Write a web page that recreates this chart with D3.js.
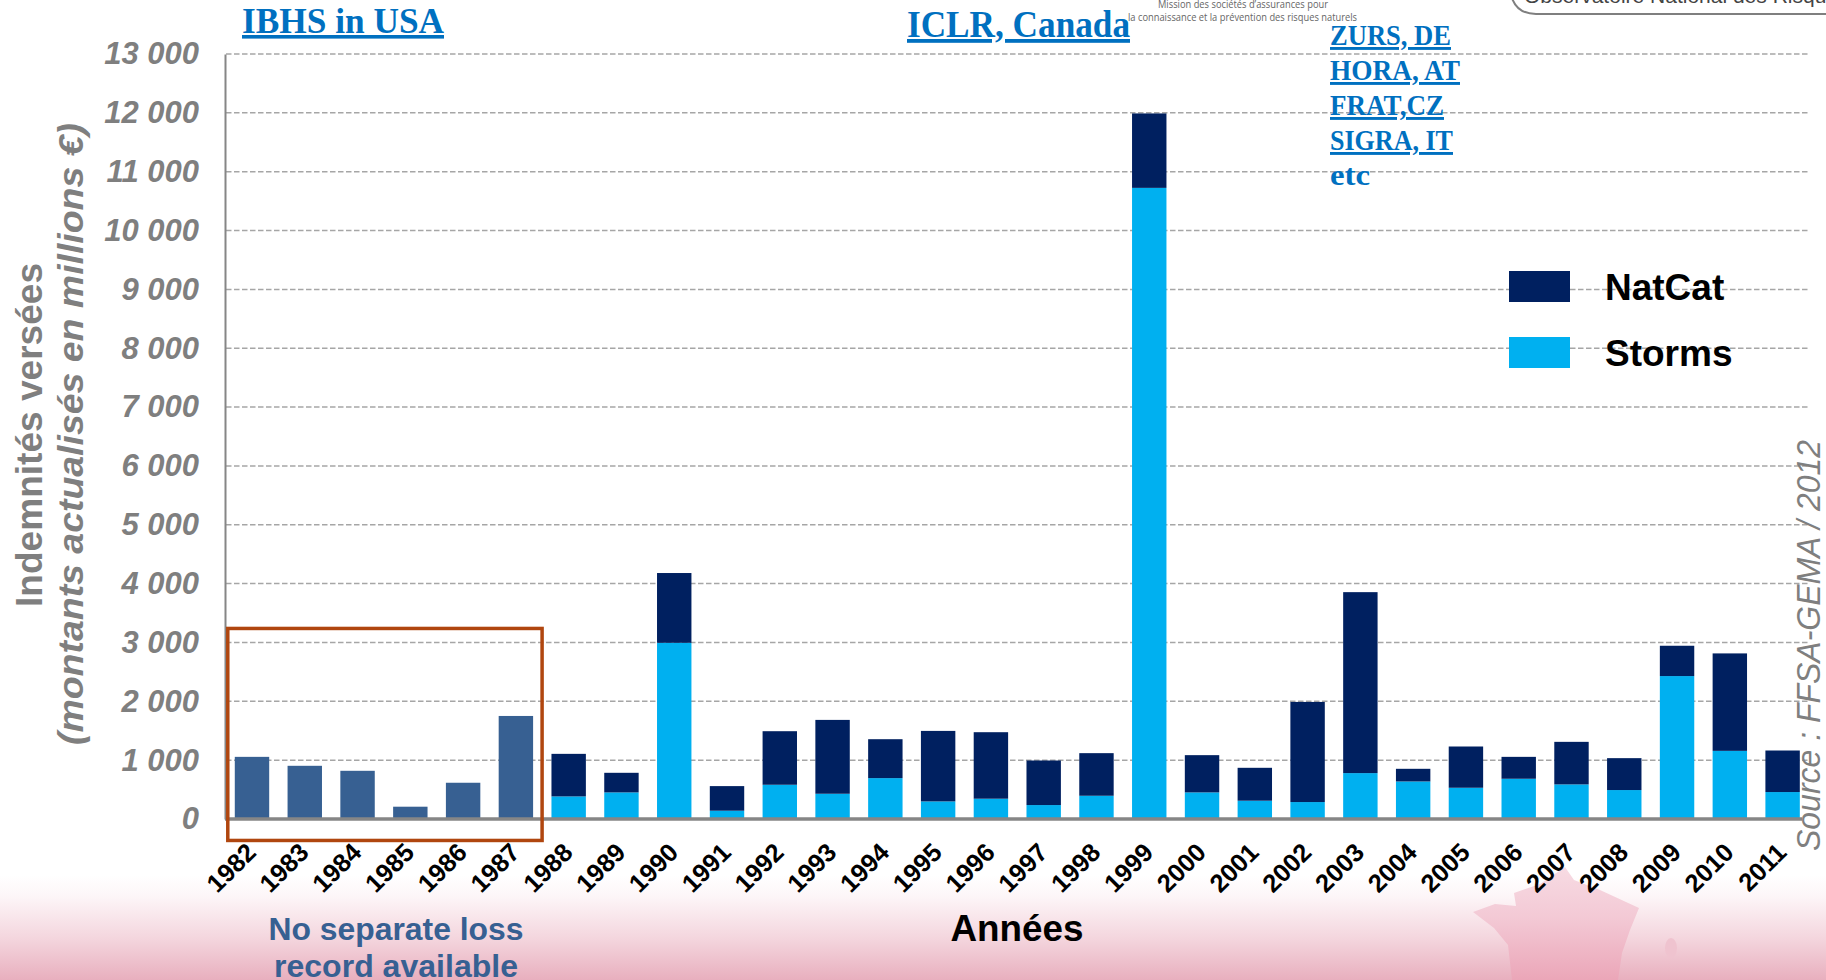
<!DOCTYPE html>
<html><head><meta charset="utf-8">
<script src="https://cdn.jsdelivr.net/npm/d3@7/dist/d3.min.js"></script>
<style>
html,body{margin:0;padding:0;background:#fff;overflow:hidden}
svg{display:block}
text{font-family:"Liberation Sans",Arial,sans-serif}
</style></head><body>
<svg id="c" width="1826" height="980"></svg>
<script>
const years = d3.range(1982, 2012);
const combinedValues = [1056,904,819,209,616,1751,0,0,0,0,0,0,0,0,0,0,0,0,0,0,0,0,0,0,0,0,0,0,0,0];
const stormValues = [0,0,0,0,0,0,384,452,2994,141,582,429,695,299,345,237,395,10725,452,311,288,780,638,531,684,588,492,2429,1158,458];
const natcatValues = [0,0,0,0,0,0,723,333,1186,418,910,1255,661,1198,1130,757,724,1265,633,559,1701,3075,215,701,372,723,542,515,1656,706];
const yTicks = d3.range(0, 13001, 1000);
const legendLabels = ["NatCat", "Storms"];
const boxedYears = [1982, 1987];
const colors = {combined:"#376092", storms:"#00B0F0", natcat:"#002060"};

const svg = d3.select("#c");
const defs = svg.append("defs");
const bg = defs.append("linearGradient").attr("id","bg").attr("x1",0).attr("x2",0).attr("y1",0).attr("y2",1);
[[0,"#ffffff"],[0.2,"#fdf6f8"],[0.6,"#f4d6de"],[1,"#e8afbe"]].forEach(s=>bg.append("stop").attr("offset",s[0]).attr("stop-color",s[1]));
const fr = defs.append("linearGradient").attr("id","fr").attr("x1",0).attr("x2",0).attr("y1",0).attr("y2",1);
fr.append("stop").attr("offset",0).attr("stop-color","#f7dbe3");
fr.append("stop").attr("offset",0.45).attr("stop-color","#f3c9d5");
fr.append("stop").attr("offset",1).attr("stop-color","#eba6b8");

// pink footer band and France silhouette (decoration)
svg.append("rect").attr("x",0).attr("y",875).attr("width",1826).attr("height",105).attr("fill","url(#bg)");
svg.append("path").attr("d","M1486,886 Q1488,868 1506,866").attr("fill","none").attr("stroke","#ececec").attr("stroke-width",5);
svg.append("path").attr("d","M1565,867 L1574,880 L1600,890 L1639,908 L1630,930 L1622,953 L1618,980 L1512,980 L1508,945 L1494,928 L1473,912 L1495,904 L1516,906 L1514,893 L1540,884 Z").attr("fill","url(#fr)");
svg.append("ellipse").attr("cx",1671).attr("cy",948).attr("rx",6).attr("ry",10).attr("fill","#efc3cf");

const x = d3.scaleBand().domain(years).range([225.6,1809]).paddingInner(0.348).paddingOuter(0.174);
const y = d3.scaleLinear().domain([0,13000]).range([819,54]);
const fmt = d3.formatLocale({thousands:" ",grouping:[3],decimal:",",currency:["","€"]}).format(",d");

// grid
svg.append("g").selectAll("line").data(yTicks.slice(1)).join("line")
  .attr("x1",226).attr("x2",1808).attr("y1",d=>y(d)).attr("y2",d=>y(d))
  .attr("stroke","#a6a6a6").attr("stroke-width",1.5).attr("stroke-dasharray","5.5 2.5");

// y axis
const gy = svg.append("g").attr("transform","translate(225,0)")
  .call(d3.axisLeft(y).tickValues(yTicks).tickFormat(fmt).tickSize(0).tickPadding(26));
gy.select(".domain").attr("stroke","#868686").attr("stroke-width",2);
gy.selectAll("text").attr("fill","#7f7f7f").attr("font-size",31).attr("font-weight","bold").attr("font-style","italic");

// bars
const rows = years.map((yr,i)=>({year:yr,combined:combinedValues[i],storms:stormValues[i],natcat:natcatValues[i]}));
const series = d3.stack().keys(["combined","storms","natcat"])(rows);
svg.append("g").selectAll("g").data(series).join("g").attr("fill",s=>colors[s.key])
  .selectAll("rect").data(s=>s.filter(d=>d[1]>d[0])).join("rect")
  .attr("x",d=>x(d.data.year)).attr("width",x.bandwidth())
  .attr("y",d=>y(d[1])).attr("height",d=>y(d[0])-y(d[1]));

// x axis
const gx = svg.append("g").attr("transform",`translate(0,${y(0)})`)
  .call(d3.axisBottom(x).tickSize(0).tickPadding(0));
gx.select(".domain").attr("stroke","#868686").attr("stroke-width",3.5).attr("d","M225,0H1802");
gx.selectAll(".tick text").attr("fill","#000").attr("font-size",25.5).attr("font-weight","bold")
  .attr("text-anchor","end").attr("dy",0).attr("y",0)
  .attr("transform","translate(5.5,35) rotate(-45)");

// boxed, no separate record
svg.append("rect").attr("x",x(boxedYears[0])-7).attr("y",y(3000)-14)
  .attr("width",x(boxedYears[1])+x.bandwidth()+9-(x(boxedYears[0])-7)).attr("height",212)
  .attr("fill","none").attr("stroke","#B0460F").attr("stroke-width",3.5);

function label(t,xp,yp,o){
  const e = svg.append("text").attr("x",xp).attr("y",yp).text(t)
    .attr("font-size",o.size).attr("fill",o.fill||"#000")
    .attr("font-weight",o.weight||"bold");
  if(o.style) e.attr("font-style",o.style);
  if(o.anchor) e.attr("text-anchor",o.anchor);
  if(o.family) e.style("font-family",o.family);
  if(o.len) e.attr("textLength",o.len).attr("lengthAdjust","spacingAndGlyphs");
  if(o.under) e.attr("text-decoration","underline");
  if(o.rot) e.attr("transform",`rotate(${o.rot} ${xp} ${yp})`);
  return e;
}
const serif = '"Liberation Serif",serif';
const blue = "#0070C0";
label("IBHS in USA",242,33,{size:36,fill:blue,family:serif,len:202,under:true});
label("ICLR, Canada",907,37,{size:38,fill:blue,family:serif,len:223,under:true});
[["ZURS, DE",45,121],["HORA, AT",80,130],["FRAT,CZ",115,114],["SIGRA, IT",150,123]].forEach(r=>
  label(r[0],1330,r[1],{size:29,fill:blue,family:serif,len:r[2],under:true}));
label("etc",1330,185,{size:29,fill:blue,family:serif,len:40});

label("Mission des sociétés d’assurances pour",1158,8,{size:11,fill:"#666",weight:"normal",family:'"Open Sans"',len:170});
label("la connaissance et la prévention des risques naturels",1128,21,{size:11,fill:"#666",weight:"normal",family:'"Open Sans"',len:229});

svg.append("path").attr("d","M1511,-5 Q1516,14 1536,14 H1830").attr("fill","none").attr("stroke","#7f7f7f").attr("stroke-width",2);
label("Observatoire National des Risques Naturels",1524,3,{size:21,fill:"#444",weight:"normal"});

// axis titles
label("Indemnités versées",42,607,{size:36,fill:"#7f7f7f",rot:-90,len:344});
label("(montants actualisés en millions €)",83,745,{size:35,fill:"#7f7f7f",style:"italic",rot:-90,len:622});
label("Source : FFSA-GEMA / 2012",1820,851,{size:33,fill:"#7f7f7f",style:"italic",weight:"normal",rot:-90,len:411});
label("Années",1017,941,{size:37,anchor:"middle",len:133});
label("No separate loss",396,940,{size:32,fill:colors.combined,anchor:"middle",len:255});
label("record available",396,977,{size:32,fill:colors.combined,anchor:"middle",len:244});

// legend
const lg = svg.append("g").selectAll("g").data(legendLabels).join("g")
  .attr("transform",(d,i)=>`translate(1509,${271+i*66})`);
lg.append("rect").attr("width",61).attr("height",31).attr("fill",(d,i)=>i?colors.storms:colors.natcat);
lg.append("text").attr("x",96).attr("y",29).attr("font-size",37).attr("font-weight","bold").attr("fill","#000").text(d=>d);
</script>
</body></html>
